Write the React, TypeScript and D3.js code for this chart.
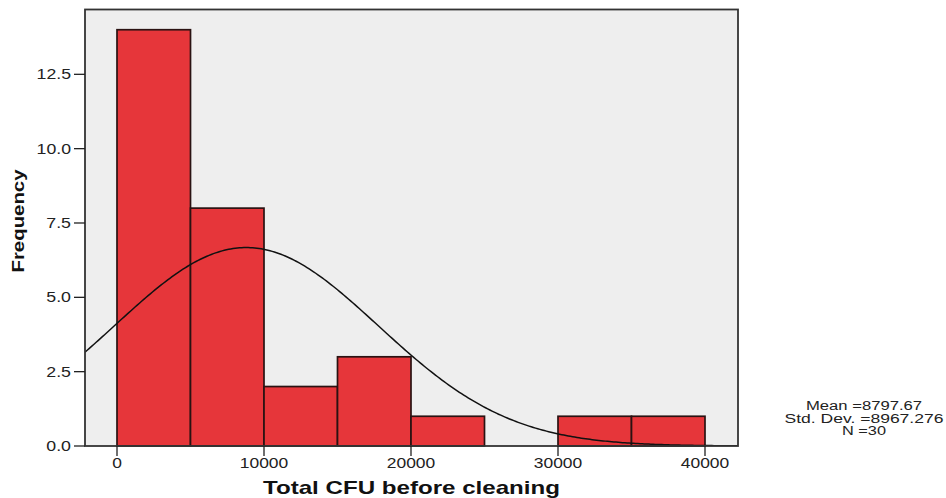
import React from "react";
import * as d3 from "d3";

const binStarts = [0, 5000, 10000, 15000, 20000, 25000, 30000, 35000];
const binWidth = 5000;
const counts = [14, 8, 2, 3, 1, 0, 1, 1];
const xTicks = [0, 10000, 20000, 30000, 40000];
const yTicks = [0, 2.5, 5, 7.5, 10, 12.5];
const statLines = ["Mean =8797.67", "Std. Dev. =8967.276", "N =30"];
const mean = 8797.67;
const sd = 8967.276;
const n = 30;

const W = 946;
const H = 498;
const left = 85;
const right = 738;
const top = 9.5;
const bottom = 446;

const FONT = "'Liberation Sans', Arial, sans-serif";

function numWidth(s: string) {
  let w = 0;
  for (const c of s) w += c === "." ? 5.3 : 9.7;
  return w;
}

export default function App() {
  const x = d3.scaleLinear().domain([-2177, 42245]).range([left, right]);
  const y = d3.scaleLinear().domain([0, 14.68]).range([bottom, top]);

  const k = (n * binWidth) / (sd * Math.sqrt(2 * Math.PI));
  const [x0, x1] = x.domain();
  const pts = d3.range(0, 301).map((i) => {
    const v = x0 + ((x1 - x0) * i) / 300;
    const z = (v - mean) / sd;
    return [v, k * Math.exp(-0.5 * z * z)] as [number, number];
  });
  const line = d3
    .line<[number, number]>()
    .x((d) => x(d[0]))
    .y((d) => y(d[1]))
    .curve(d3.curveLinear);

  return (
    <svg
      width={W}
      height={H}
      style={{ position: "absolute", left: 0, top: 0, display: "block", background: "#fff" }}
    >
      <defs>
        <clipPath id="plotclip">
          <rect x={left} y={top} width={right - left} height={bottom - top} />
        </clipPath>
      </defs>
      <rect x={left} y={top} width={right - left} height={bottom - top} fill="#eeeeee" />
      {counts.map((c, i) =>
        c > 0 ? (
          <rect
            key={i}
            x={x(binStarts[i])}
            y={y(c)}
            width={x(binStarts[i] + binWidth) - x(binStarts[i])}
            height={bottom - y(c)}
            fill="#e6363a"
            stroke="#2a1212"
            strokeWidth={1.7}
          />
        ) : null
      )}
      <path d={line(pts) || ""} fill="none" stroke="#111" strokeWidth={1.5} clipPath="url(#plotclip)" />
      <rect
        x={left}
        y={top}
        width={right - left}
        height={bottom - top}
        fill="none"
        stroke="#333"
        strokeWidth={1.8}
      />
      {yTicks.map((t) => (
        <g key={"y" + t}>
          <line x1={left - 11} x2={left} y1={y(t)} y2={y(t)} stroke="#222" strokeWidth={1.3} />
          <text
            x={71}
            y={y(t) + 5}
            textAnchor="end"
            fontFamily={FONT}
            fontSize={14}
            fill="#222"
            textLength={numWidth(t.toFixed(1))}
            lengthAdjust="spacingAndGlyphs"
          >
            {t.toFixed(1)}
          </text>
        </g>
      ))}
      {xTicks.map((t) => (
        <g key={"x" + t}>
          <line x1={x(t)} x2={x(t)} y1={bottom} y2={bottom + 10} stroke="#222" strokeWidth={1.3} />
          <text
            x={x(t)}
            y={468}
            textAnchor="middle"
            fontFamily={FONT}
            fontSize={14}
            fill="#222"
            textLength={numWidth(String(t))}
            lengthAdjust="spacingAndGlyphs"
          >
            {String(t)}
          </text>
        </g>
      ))}
      <text
        x={411.5}
        y={494}
        textAnchor="middle"
        fontFamily={FONT}
        fontWeight="bold"
        fontSize={19}
        fill="#111"
        textLength={297}
        lengthAdjust="spacingAndGlyphs"
      >
        Total CFU before cleaning
      </text>
      <text
        transform="translate(24,221) rotate(-90)"
        textAnchor="middle"
        fontFamily={FONT}
        fontWeight="bold"
        fontSize={17}
        fill="#111"
        textLength={103}
        lengthAdjust="spacingAndGlyphs"
      >
        Frequency
      </text>
      {statLines.map((s, i) => (
        <text
          key={s}
          x={864}
          y={410 + i * 12.5}
          textAnchor="middle"
          fontFamily={FONT}
          fontSize={12.5}
          fill="#222"
          textLength={[116, 159, 44][i]}
          lengthAdjust="spacingAndGlyphs"
        >
          {s}
        </text>
      ))}
    </svg>
  );
}
